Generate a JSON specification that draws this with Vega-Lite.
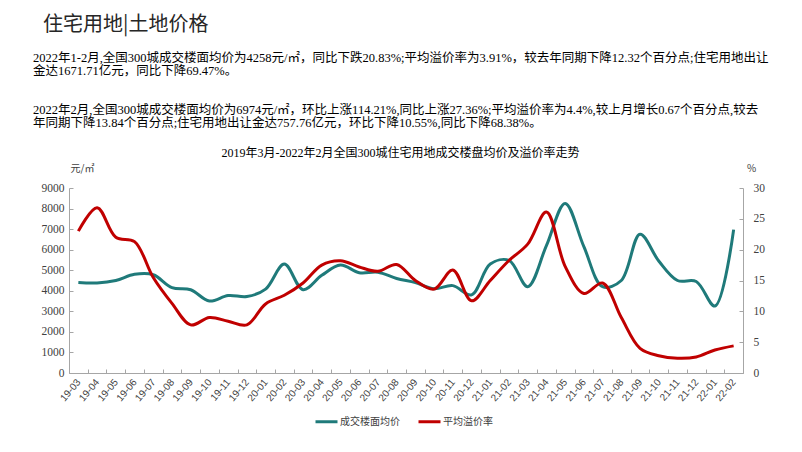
{
  "$schema": "https://vega.github.io/schema/vega-lite/v6.json",
  "width": 674,
  "height": 185,
  "autosize": {"type": "none"},
  "padding": {"left": 69, "top": 188, "right": 59, "bottom": 79},
  "background": "white",
  "title": {
    "text": "\u200b\u2002住宅用地|土地价格",
    "subtitle": [
      "2022年1-2月,全国300城成交楼面均价为4258元/㎡，同比下跌20.83%;平均溢价率为3.91%，较去年同期下降12.32个百分点;住宅用地出让",
      "金达1671.71亿元，同比下降69.47%。",
      "\u200b",
      "\u200b",
      "2022年2月,全国300城成交楼面均价为6974元/㎡，环比上涨114.21%,同比上涨27.36%;平均溢价率为4.4%,较上月增长0.67个百分点,较去",
      "年同期下降13.84个百分点;住宅用地出让金达757.76亿元，环比下降10.55%,同比下降68.38%。"
    ],
    "anchor": "start",
    "frame": "group",
    "dx": -36,
    "offset": 17,
    "font": "Noto Sans CJK SC",
    "fontSize": 20,
    "fontWeight": "normal",
    "color": "#262626",
    "subtitleFont": "Liberation Serif, Noto Sans CJK SC",
    "subtitleFontSize": 12.5,
    "subtitleColor": "#000000",
    "subtitleLineHeight": 13,
    "subtitlePadding": 16.5
  },
  "data": {
    "values": [
      {"month": "19-03", "price": 4400, "rate": 23.0},
      {"month": "19-04", "price": 4380, "rate": 26.8},
      {"month": "19-05", "price": 4500, "rate": 22.0},
      {"month": "19-06", "price": 4800, "rate": 21.3},
      {"month": "19-07", "price": 4780, "rate": 15.5},
      {"month": "19-08", "price": 4150, "rate": 11.3},
      {"month": "19-09", "price": 4050, "rate": 7.8},
      {"month": "19-10", "price": 3500, "rate": 9.0},
      {"month": "19-11", "price": 3770, "rate": 8.4},
      {"month": "19-12", "price": 3720, "rate": 7.8},
      {"month": "20-01", "price": 4080, "rate": 11.2},
      {"month": "20-02", "price": 5300, "rate": 12.6},
      {"month": "20-03", "price": 4050, "rate": 14.6},
      {"month": "20-04", "price": 4750, "rate": 17.5},
      {"month": "20-05", "price": 5250, "rate": 18.2},
      {"month": "20-06", "price": 4880, "rate": 17.2},
      {"month": "20-07", "price": 4900, "rate": 16.5},
      {"month": "20-08", "price": 4600, "rate": 17.6},
      {"month": "20-09", "price": 4400, "rate": 15.0},
      {"month": "20-10", "price": 4100, "rate": 13.6},
      {"month": "20-11", "price": 4250, "rate": 16.7},
      {"month": "20-12", "price": 3800, "rate": 11.7},
      {"month": "21-01", "price": 5300, "rate": 15.0},
      {"month": "21-02", "price": 5476, "rate": 18.24},
      {"month": "21-03", "price": 4200, "rate": 20.9},
      {"month": "21-04", "price": 6200, "rate": 26.1},
      {"month": "21-05", "price": 8250, "rate": 17.3},
      {"month": "21-06", "price": 6150, "rate": 12.9},
      {"month": "21-07", "price": 4200, "rate": 14.6},
      {"month": "21-08", "price": 4500, "rate": 9.0},
      {"month": "21-09", "price": 6750, "rate": 4.0},
      {"month": "21-10", "price": 5450, "rate": 2.8},
      {"month": "21-11", "price": 4500, "rate": 2.4},
      {"month": "21-12", "price": 4450, "rate": 2.6},
      {"month": "22-01", "price": 3256, "rate": 3.73},
      {"month": "22-02", "price": 6974, "rate": 4.4}
    ]
  },
  "layer": [
    {
      "mark": {"type": "line", "interpolate": "catmull-rom", "strokeWidth": 3},
      "encoding": {
        "x": {
          "field": "month", "type": "ordinal", "sort": null, "bandPosition": 0.5,
          "scale": {"type": "band", "paddingInner": 0, "paddingOuter": 0},
          "axis": {
            "orient": "bottom", "title": null, "tickBand": "extent",
            "labelAngle": -50, "labelFont": "Liberation Sans", "labelFontSize": 10,
            "labelColor": "#404040", "tickSize": -4, "labelPadding": 11,
            "domainColor": "#a6a6a6", "tickColor": "#a6a6a6", "grid": false
          }
        },
        "y": {
          "field": "price", "type": "quantitative",
          "scale": {"domain": [0, 9000], "nice": false},
          "axis": {
            "orient": "left", "values": [0, 1000, 2000, 3000, 4000, 5000, 6000, 7000, 8000, 9000],
            "format": "d",
            "title": "元/㎡", "titleAngle": 0, "titleX": 13, "titleY": -20,
            "titleAlign": "center", "titleBaseline": "middle",
            "titleFont": "Noto Sans CJK SC", "titleFontSize": 10, "titleFontWeight": "normal", "titleColor": "#404040",
            "labelFont": "Liberation Serif", "labelFontSize": 11.5, "labelColor": "#404040",
            "tickSize": -4, "labelPadding": 9, "grid": false,
            "domainColor": "#a6a6a6", "tickColor": "#a6a6a6"
          }
        },
        "color": {
          "datum": "成交楼面均价",
          "scale": {"domain": ["成交楼面均价", "平均溢价率"], "range": ["#1f7a7a", "#c00000"]},
          "legend": {
            "title": null, "orient": "none", "legendX": 245, "legendY": 221,
            "direction": "horizontal", "symbolType": "stroke", "symbolSize": 484,
            "symbolStrokeWidth": 3, "labelFont": "Noto Sans CJK SC", "labelFontSize": 10,
            "labelColor": "#404040", "labelOffset": 1, "columnPadding": 12, "padding": 0
          }
        }
      }
    },
    {
      "mark": {"type": "line", "interpolate": "catmull-rom", "strokeWidth": 3},
      "encoding": {
        "x": {
          "field": "month", "type": "ordinal", "sort": null, "bandPosition": 0.5,
          "scale": {"type": "band", "paddingInner": 0, "paddingOuter": 0},
          "axis": {
            "orient": "top", "labels": false, "ticks": false, "domain": false, "grid": false,
            "title": "2019年3月-2022年2月全国300城住宅用地成交楼盘均价及溢价率走势",
            "titleX": 331, "titleY": -36, "titleAlign": "center", "titleBaseline": "middle",
            "titleFont": "Liberation Serif, Noto Sans CJK SC", "titleFontSize": 12,
            "titleFontWeight": "normal", "titleColor": "#000000"
          }
        },
        "y": {
          "field": "rate", "type": "quantitative",
          "scale": {"domain": [0, 30], "nice": false},
          "axis": {
            "orient": "right", "values": [0, 5, 10, 15, 20, 25, 30],
            "title": "%", "titleAngle": 0, "titleX": 8, "titleY": -20,
            "titleAlign": "center", "titleBaseline": "middle",
            "titleFont": "Noto Sans CJK SC", "titleFontSize": 10, "titleFontWeight": "normal", "titleColor": "#404040",
            "labelFont": "Liberation Serif", "labelFontSize": 11.5, "labelColor": "#404040",
            "tickSize": -4, "labelPadding": 14, "grid": false,
            "domainColor": "#a6a6a6", "tickColor": "#a6a6a6"
          }
        },
        "color": {"datum": "平均溢价率"}
      }
    }
  ],
  "resolve": {"scale": {"y": "independent"}},
  "config": {"view": {"stroke": null}}
}
